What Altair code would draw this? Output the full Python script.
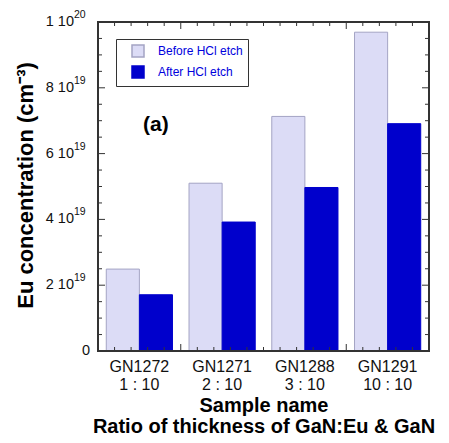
import altair as alt
import pandas as pd

# ---- data ----
samples = ["GN1272", "GN1271", "GN1288", "GN1291"]
ratios = ["1 : 10", "2 : 10", "3 : 10", "10 : 10"]
series = ["Before HCl etch", "After HCl etch"]
before_vals = [2.49e19, 5.10e19, 7.13e19, 9.69e19]
after_vals = [1.71e19, 3.92e19, 4.97e19, 6.91e19]
colors = ["#dcdcf6", "#0000cc"]
strokes = ["#a4a4c4", "#0000cc"]

# axis tick values / labels
y_title = "Eu concentration (cm⁻³)"
x_title = ["Sample name", "Ratio of thickness of GaN:Eu & GaN"]
y_label_vals = [2e19, 4e19, 6e19, 8e19, 1e20]
y_label_base = ["2 10", "4 10", "6 10", "8 10", "1 10"]
y_label_exp = ["19", "19", "19", "19", "20"]
y_zero = [0.0]
y_major = [0.0, 2e19, 4e19, 6e19, 8e19, 1e20]
y_minor = [0.5e19, 1e19, 1.5e19, 2.5e19, 3e19, 3.5e19, 4.5e19, 5e19, 5.5e19,
           6.5e19, 7e19, 7.5e19, 8.5e19, 9e19, 9.5e19]
x_major = [5, 15]
x_minor = [1, 2, 3, 4, 6, 7, 8, 9, 10, 11, 12, 13, 14, 16, 17, 18, 19]

W, H = 331, 329
FONT = "Liberation Sans"

labels = [f"{s}|{r}" for s, r in zip(samples, ratios)]
rows = []
for lab, b, a in zip(labels, before_vals, after_vals):
    rows.append({"label": lab, "series": series[0], "value": b})
    rows.append({"label": lab, "series": series[1], "value": a})
df = pd.DataFrame(rows)

yscale = alt.Scale(domain=[0, 1e20], nice=False, zero=True)

bars = alt.Chart(df).mark_bar(strokeWidth=1).encode(
    x=alt.X("label:N", sort=labels,
            scale=alt.Scale(paddingInner=0.2, paddingOuter=0.1),
            axis=alt.Axis(labelExpr="split(datum.label, '|')", labelFontSize=16,
                          labelLineHeight=18, labelPadding=7, labelBaseline="top",
                          labelAngle=0, ticks=False, domain=False, labelColor="#111",
                          title=x_title,
                          titleFontSize=20, titleFontWeight="bold", titleLineHeight=21,
                          titleBaseline="alphabetic", titleY=60, titleColor="#000")),
    xOffset=alt.XOffset("series:N", sort=series,
                        scale=alt.Scale(paddingInner=0, paddingOuter=0)),
    y=alt.Y("value:Q", scale=yscale, axis=None),
    color=alt.Color("series:N", sort=series,
                    scale=alt.Scale(domain=series, range=colors),
                    legend=alt.Legend(title=None, orient="none", legendX=18, legendY=17,
                                      symbolType="square", symbolSize=144,
                                      labelFontSize=12, labelColor="#0000dd",
                                      labelFont=FONT, padding=5, symbolOffset=10,
                                      labelOffset=13, rowPadding=3,
                                      strokeColor="#333", fillColor="white")),
    stroke=alt.Stroke("series:N", sort=series,
                      scale=alt.Scale(domain=series, range=strokes), legend=None),
)


def yrules(vals, x1, x2):
    return alt.Chart(pd.DataFrame({"v": vals})).mark_rule(color="#333", strokeWidth=1).encode(
        y=alt.Y("v:Q", axis=None, scale=yscale), x=alt.value(x1), x2=alt.value(x2))


def xrules(vals, y1, y2):
    return alt.Chart(pd.DataFrame({"t": vals})).mark_rule(color="#333", strokeWidth=1).encode(
        x=alt.X("t:Q", axis=None, scale=alt.Scale(domain=[0, 20], nice=False)),
        y=alt.value(y1), y2=alt.value(y2))


ylab = pd.DataFrame({"v": y_label_vals, "base": y_label_base, "exp": y_label_exp})
base_txt = alt.Chart(ylab).mark_text(align="right", baseline="middle", fontSize=14.5,
                                      font=FONT, color="#111").encode(
    y=alt.Y("v:Q", axis=None, scale=yscale), x=alt.value(-24), text="base:N")
exp_txt = alt.Chart(ylab).mark_text(align="left", baseline="middle", fontSize=10.5,
                                     font=FONT, color="#111", dy=-7).encode(
    y=alt.Y("v:Q", axis=None, scale=yscale), x=alt.value(-24), text="exp:N")
zero_txt = alt.Chart(pd.DataFrame({"v": y_zero, "t": ["0"]})).mark_text(
    align="right", baseline="middle", fontSize=14.5, font=FONT, color="#111").encode(
    y=alt.Y("v:Q", axis=None, scale=yscale), x=alt.value(-8), text="t:N")

ytitle_txt = alt.Chart(pd.DataFrame({"t": [y_title]})).mark_text(
    align="center", baseline="middle", angle=270, fontSize=22, fontWeight="bold",
    font=FONT, color="#000").encode(x=alt.value(-72), y=alt.value(H / 2 - 1), text="t:N")

panel_txt = alt.Chart(pd.DataFrame({"t": ["(a)"]})).mark_text(
    align="left", baseline="alphabetic", fontSize=21, fontWeight="bold", font=FONT,
    color="#000").encode(x=alt.value(45), y=alt.value(109), text="t:N")

frame = alt.Chart(pd.DataFrame({"f": [0]})).mark_rect(
    filled=False, stroke="#333", strokeWidth=2).encode(
    x=alt.value(0), x2=alt.value(W), y=alt.value(0), y2=alt.value(H))

chart = alt.layer(
    bars,
    yrules(y_major, 0, 7), yrules(y_minor, 0, 4),
    yrules(y_major, W, W - 7), yrules(y_minor, W, W - 4),
    xrules(x_major, 0, 7), xrules(x_minor, 0, 4),
    xrules(x_major, H, H - 7), xrules(x_minor, H, H - 4),
    frame, base_txt, exp_txt, zero_txt, ytitle_txt, panel_txt,
).resolve_scale(x="independent").properties(
    width=W, height=H,
    autosize=alt.AutoSizeParams(type="none"),
    padding={"left": 90, "top": 14, "right": 12, "bottom": 84},
    background="white",
).configure_view(strokeWidth=0).configure(font=FONT)

chart.save("out.html", embed_options={"renderer": "svg", "actions": False})
